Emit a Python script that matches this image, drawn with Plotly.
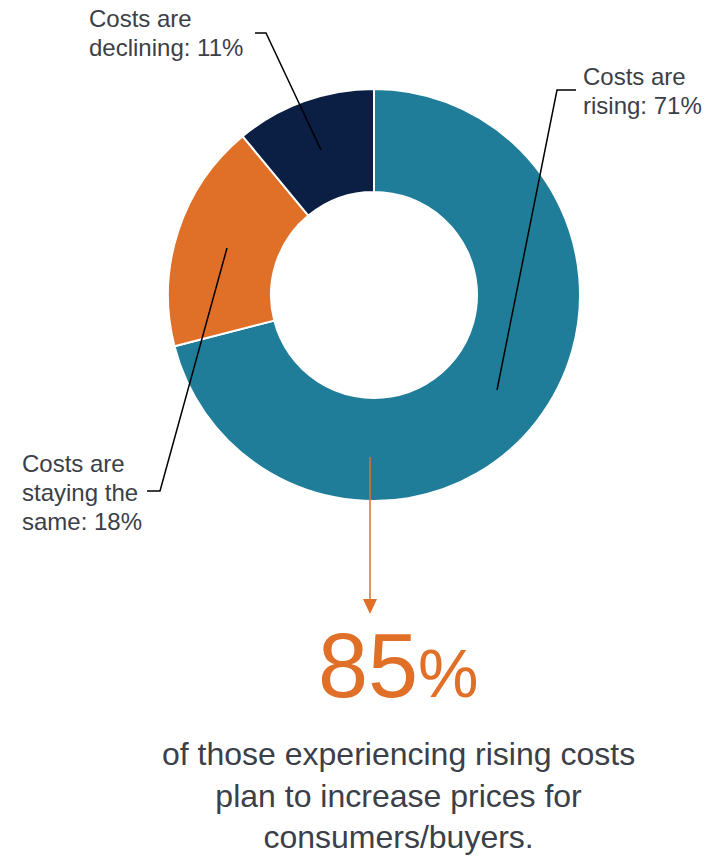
import plotly.graph_objects as go

# Survey shares
categories = ["Costs are rising", "Costs are staying the same", "Costs are declining"]
shares = [71, 18, 11]
label_lines = [
    ["Costs are", "rising: 71%"],
    ["Costs are", "staying the", "same: 18%"],
    ["Costs are", "declining: 11%"],
]
headline_value = 85
headline_text = ["of those experiencing rising costs", "plan to increase prices for", "consumers/buyers."]

# Styling
W, H = 705, 858
colors = ["#1f7d9a", "#e06f28", "#0a1f43"]
text_color = "#3b4048"
font_family = "Liberation Sans, Arial, sans-serif"


def px_x(x):
    return x / W


def px_y(y):
    return 1 - y / H


cx, cy, r = 374, 295, 206

fig = go.Figure(
    go.Pie(
        labels=categories,
        values=shares,
        sort=False,
        direction="clockwise",
        rotation=0,
        hole=0.5,
        textinfo="none",
        marker=dict(colors=colors, line=dict(color="white", width=2)),
        domain=dict(x=[px_x(cx - r), px_x(cx + r)], y=[px_y(cy + r), px_y(cy - r)]),
        showlegend=False,
    )
)

# Callout labels: (left x, vertical centre of block), one annotation per line
label_pos = [(581, 91), (20, 492), (87, 33)]
label_gap = 29
annotations = []
for lines, (lx, ly) in zip(label_lines, label_pos):
    n = len(lines)
    for i, line in enumerate(lines):
        yy = ly + (i - (n - 1) / 2) * label_gap
        annotations.append(dict(
            text=line, x=px_x(lx), y=px_y(yy), xref="paper", yref="paper",
            xanchor="left", yanchor="middle", align="left", showarrow=False,
            font=dict(family=font_family, size=24, color=text_color),
        ))

# Headline figure
annotations.append(dict(
    text=f"{headline_value}<span style='font-size:68px'>%</span>",
    x=px_x(398), y=px_y(666), xref="paper", yref="paper",
    xanchor="center", yanchor="middle", showarrow=False,
    font=dict(family=font_family, size=90, color=colors[1]),
))
annotations.append(dict(
    text="<br>".join(headline_text), x=px_x(398), y=px_y(795), xref="paper", yref="paper",
    xanchor="center", yanchor="middle", align="center", showarrow=False,
    font=dict(family=font_family, size=32, color=text_color),
))

# Leader lines (polylines in pixel space)
leaders = [
    [(497, 390), (557, 90), (576, 90)],
    [(227, 248), (160, 491), (147, 491)],
    [(321, 150), (266, 33), (255, 33)],
]
shapes = []
for pts in leaders:
    path = "M " + " L ".join(f"{px_x(x)},{px_y(y)}" for x, y in pts)
    shapes.append(dict(type="path", path=path, xref="paper", yref="paper",
                       line=dict(color="black", width=1.5)))

# Arrow from the rising slice to the headline
ax, ay0, ay1 = 370, 457, 600
shapes.append(dict(type="line", xref="paper", yref="paper",
                   x0=px_x(ax), y0=px_y(ay0), x1=px_x(ax), y1=px_y(ay1),
                   line=dict(color=colors[1], width=1.5)))
shapes.append(dict(type="path", xref="paper", yref="paper",
                   path=f"M {px_x(ax - 7)},{px_y(599)} L {px_x(ax + 7)},{px_y(599)} L {px_x(ax)},{px_y(614)} Z",
                   fillcolor=colors[1], line=dict(color=colors[1], width=0)))

fig.update_layout(
    width=W, height=H,
    margin=dict(l=0, r=0, t=0, b=0),
    paper_bgcolor="white", plot_bgcolor="white",
    annotations=annotations, shapes=shapes,
)

fig.write_html("out.html")
